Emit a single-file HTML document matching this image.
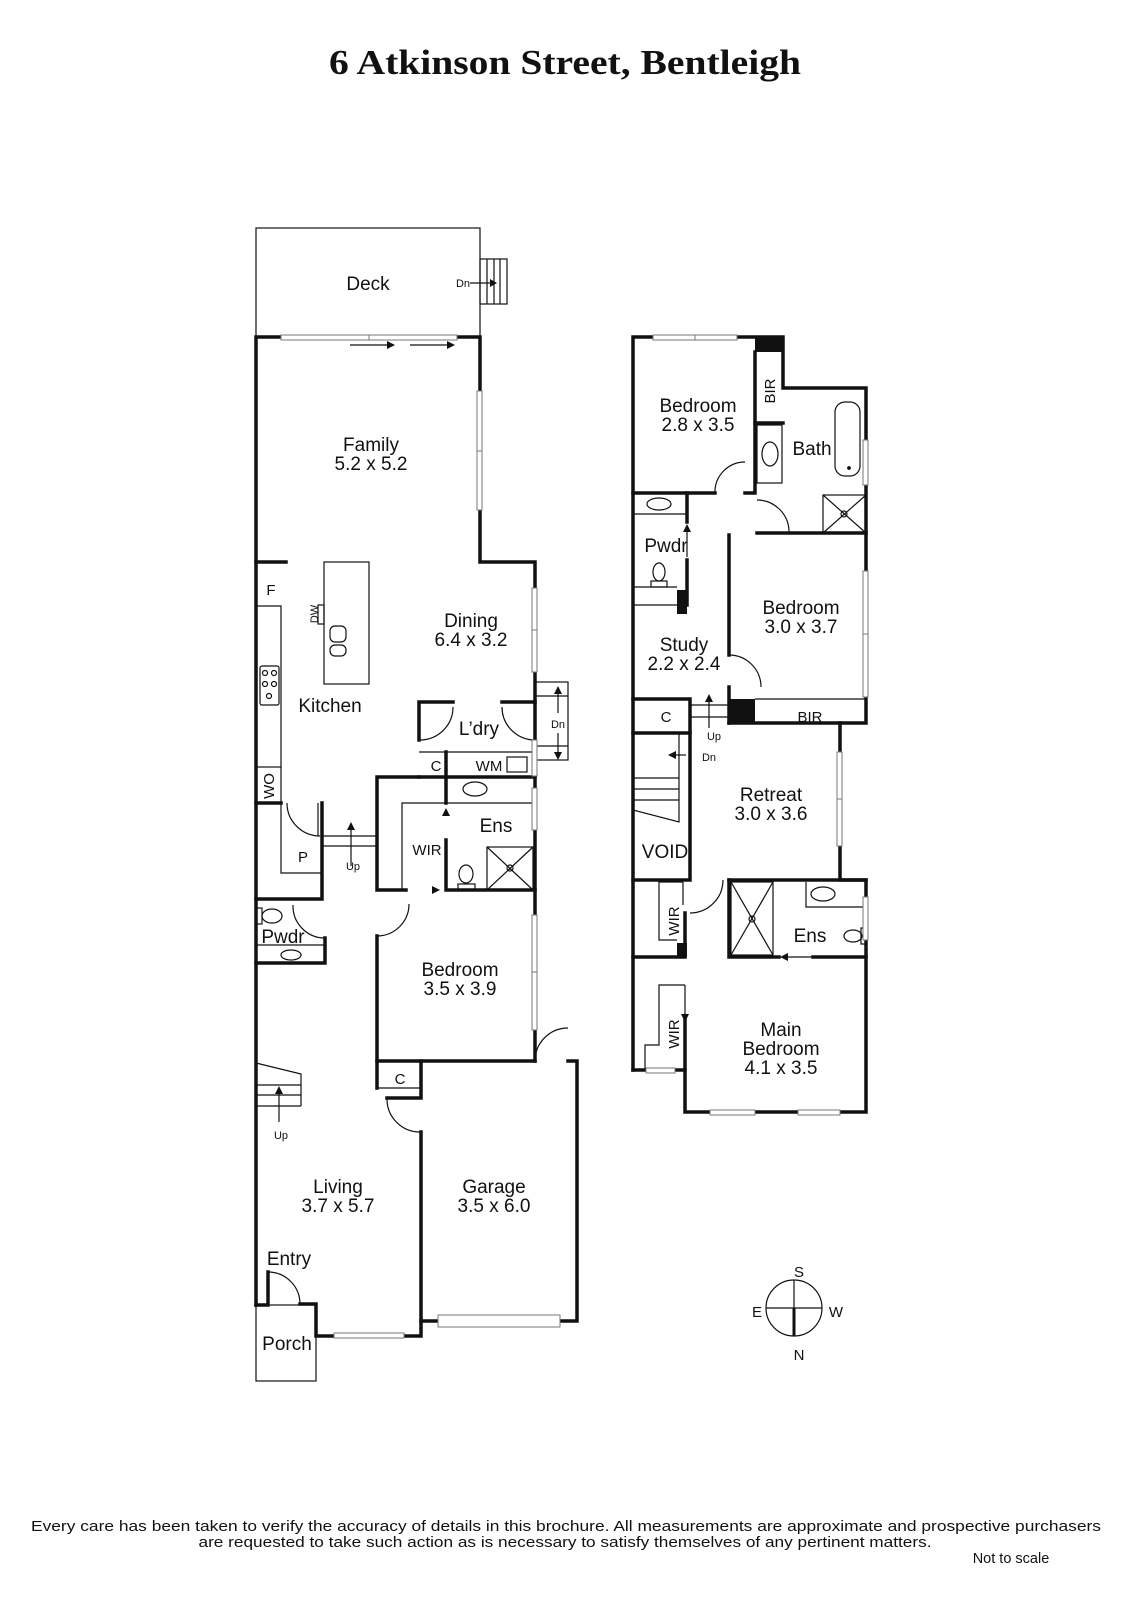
<!DOCTYPE html>
<html><head><meta charset="utf-8"><style>
html,body{margin:0;padding:0;background:#fff}
svg{display:block}
text{font-family:"Liberation Sans",sans-serif;fill:#111}
</style></head><body>
<svg width="1131" height="1600" viewBox="0 0 1131 1600" xmlns="http://www.w3.org/2000/svg">
<text x="565" y="74" text-anchor="middle" style="font-family:'Liberation Serif',serif;font-weight:bold;font-size:35px" textLength="472" lengthAdjust="spacingAndGlyphs">6 Atkinson Street, Bentleigh</text>

<g fill="none" stroke="#111" stroke-width="1.2">
<rect x="256" y="228" width="224" height="109"/>
<rect x="480" y="259" width="27" height="45"/>
<line x1="487" y1="259" x2="487" y2="304"/><line x1="494" y1="259" x2="494" y2="304"/><line x1="500" y1="259" x2="500" y2="304"/>
<line x1="470" y1="283" x2="492" y2="283"/>
<polyline points="256,606 281,606 281,767"/>
<rect x="260" y="666" width="19" height="39" rx="2"/>
<circle cx="265" cy="673" r="2.5"/><circle cx="274" cy="673" r="2.5"/><circle cx="265" cy="684" r="2.5"/><circle cx="274" cy="684" r="2.5"/><circle cx="269" cy="696" r="2.5"/>
<rect x="256" y="767" width="25" height="36"/>
<rect x="324" y="562" width="45" height="122"/>
<rect x="318" y="605" width="6" height="19"/>
<rect x="330" y="626" width="16" height="16" rx="5"/><rect x="330" y="645" width="16" height="11" rx="5"/>
<polyline points="281,803 281,873 322,873"/>
<path d="M287,803 A33,33 0 0 0 320,836"/>
<line x1="318" y1="803" x2="318" y2="836"/>
<line x1="322" y1="836" x2="377" y2="836"/><line x1="322" y1="846" x2="377" y2="846"/>
<line x1="351" y1="866" x2="351" y2="826"/>
<path d="M293,905 A32,32 0 0 0 325,938"/>
<line x1="256" y1="945" x2="325" y2="945"/>
<ellipse cx="291" cy="955" rx="10" ry="5"/>
<ellipse cx="272" cy="916" rx="10" ry="7"/><rect x="256" y="908" width="6" height="16"/>
<path d="M453,707 A33,33 0 0 1 420,740"/>
<path d="M502,707 A33,33 0 0 0 535,740"/>
<line x1="419" y1="752" x2="535" y2="752"/>
<rect x="507" y="757" width="20" height="15"/>
<rect x="535" y="682" width="33" height="78"/>
<line x1="535" y1="696" x2="568" y2="696"/><line x1="535" y1="746" x2="568" y2="746"/>
<line x1="558" y1="690" x2="558" y2="713"/><line x1="558" y1="733" x2="558" y2="756"/>
<polyline points="402,890 402,803 446,803"/>
<line x1="446" y1="803" x2="535" y2="803"/>
<ellipse cx="475" cy="789" rx="12" ry="7"/>
<rect x="487" y="847" width="46" height="43"/>
<line x1="487" y1="847" x2="533" y2="890"/><line x1="533" y1="847" x2="487" y2="890"/>
<circle cx="510" cy="868" r="3"/>
<ellipse cx="466" cy="874" rx="7" ry="9"/><rect x="458" y="884" width="17" height="6"/>
<path d="M377,936 A32,32 0 0 0 409,904"/>
<path d="M535,1061 A33,33 0 0 1 568,1028"/>
<line x1="377" y1="1088" x2="421" y2="1088"/>
<path d="M387,1099 A33,33 0 0 0 421,1132"/>
<polyline points="256,1063 301,1074 301,1106"/>
<line x1="256" y1="1085" x2="301" y2="1085"/><line x1="256" y1="1095" x2="301" y2="1095"/><line x1="256" y1="1106" x2="301" y2="1106"/>
<line x1="279" y1="1122" x2="279" y2="1090"/>
<path d="M268,1272 A32,32 0 0 1 300,1304"/>
<rect x="256" y="1305" width="60" height="76"/>

<path d="M745,462 A30,30 0 0 0 715,493"/>
<path d="M757,500 A32,32 0 0 1 789,532"/>
<rect x="757" y="425" width="25" height="58"/>
<ellipse cx="770" cy="454" rx="8" ry="12"/>
<rect x="835" y="402" width="25" height="74" rx="10"/>
<circle cx="849" cy="468" r="1.3" fill="#111"/>
<rect x="823" y="495" width="43" height="38"/>
<line x1="823" y1="495" x2="866" y2="533"/><line x1="866" y1="495" x2="823" y2="533"/>
<circle cx="844" cy="514" r="3"/>
<line x1="633" y1="514" x2="687" y2="514"/>
<ellipse cx="659" cy="504" rx="12" ry="6"/>
<ellipse cx="659" cy="572" rx="6" ry="9"/><rect x="651" y="581" width="16" height="6"/>
<line x1="633" y1="587" x2="677" y2="587"/><line x1="633" y1="605" x2="677" y2="605"/>
<line x1="687" y1="557" x2="687" y2="528"/>
<path d="M729,655 A32,32 0 0 1 761,687"/>
<line x1="690" y1="705" x2="729" y2="705"/><line x1="690" y1="717" x2="729" y2="717"/>
<line x1="709" y1="728" x2="709" y2="698"/>
<line x1="755" y1="699" x2="866" y2="699"/>
<line x1="679" y1="733" x2="679" y2="778"/>
<line x1="633" y1="778" x2="679" y2="778"/><line x1="633" y1="789" x2="679" y2="789"/><line x1="633" y1="800" x2="679" y2="800"/>
<polyline points="633,810 679,822 679,778"/>
<line x1="686" y1="755" x2="673" y2="755"/>
<polyline points="683,882 659,882 659,940 677,940"/>
<line x1="683" y1="882" x2="683" y2="905"/>
<path d="M690,913 A33,33 0 0 0 723,880"/>
<polyline points="685,985 659,985 659,1045 645,1045 645,1070"/>
<line x1="685" y1="985" x2="685" y2="1015"/>
<rect x="731" y="882" width="42" height="73"/>
<line x1="731" y1="882" x2="773" y2="955"/><line x1="773" y1="882" x2="731" y2="955"/>
<circle cx="752" cy="919" r="3"/>
<polyline points="806,882 806,907 866,907"/>
<ellipse cx="823" cy="894" rx="12" ry="7"/>
<ellipse cx="853" cy="936" rx="9" ry="6"/><rect x="861" y="928" width="5" height="16"/>
<line x1="812" y1="957" x2="784" y2="957"/>
<circle cx="794" cy="1308" r="28"/>
<line x1="766" y1="1308" x2="822" y2="1308"/>
<line x1="794" y1="1280" x2="794" y2="1308"/>
</g>
<line x1="794" y1="1308" x2="794" y2="1336" stroke="#111" stroke-width="3"/>

<g fill="#111">
<polygon points="497,283 490,279 490,287"/>
<polygon points="351,822 347,830 355,830"/>
<polygon points="279,1086 275,1094 283,1094"/>
<polygon points="558,686 554,694 562,694"/><polygon points="558,760 554,752 562,752"/>
<polygon points="446,808 442,816 450,816"/>
<polygon points="440,890 432,886 432,894"/>
<polygon points="687,524 683,532 691,532"/>
<polygon points="709,694 705,702 713,702"/>
<polygon points="668,755 676,751 676,759"/>
<polygon points="685,1022 681,1014 689,1014"/>
<polygon points="780,957 788,953 788,961"/>
<polygon points="395,345 387,341 387,349"/><polygon points="455,345 447,341 447,349"/>
<rect x="755" y="337" width="28" height="15"/>
<rect x="729" y="699" width="26" height="24"/>
<rect x="677" y="590" width="10" height="24"/>
<rect x="677" y="943" width="10" height="14"/>
</g>
<g stroke="#111" stroke-width="1.2">
<line x1="350" y1="345" x2="392" y2="345"/><line x1="410" y1="345" x2="452" y2="345"/>
</g>

<g fill="none" stroke="#111" stroke-width="3.5" stroke-linejoin="miter" stroke-linecap="square">
<polyline points="256,1305 256,337 480,337 480,562 535,562 535,1061"/>
<polyline points="256,562 286,562"/>
<polyline points="256,803 281,803"/>
<polyline points="322,803 322,899 256,899"/>
<polyline points="325,938 325,963 256,963"/>
<polyline points="419,740 419,702 453,702"/>
<polyline points="502,702 535,702"/>
<polyline points="419,777 535,777"/>
<polyline points="446,752 446,803"/><polyline points="446,840 446,890 535,890"/>
<polyline points="406,890 377,890 377,777 419,777"/>
<polyline points="377,936 377,1088"/>
<polyline points="377,1061 535,1061"/>
<polyline points="421,1061 421,1098 387,1098"/>
<polyline points="568,1061 577,1061 577,1321 421,1321"/>
<polyline points="421,1132 421,1336 316,1336 316,1304 300,1304"/>
<polyline points="256,1305 268,1305 268,1272"/>
<polyline points="633,1070 633,337 783,337 783,388 866,388 866,723 729,723"/>
<polyline points="755,352 755,423 783,423"/>
<polyline points="755,423 755,493 745,493"/>
<polyline points="633,493 715,493"/>
<polyline points="757,533 866,533"/><polyline points="729,535 729,655"/><polyline points="729,687 729,723"/>
<polyline points="687,493 687,522"/><polyline points="687,560 687,605"/>
<polyline points="633,699 690,699 690,733 633,733"/>
<polyline points="690,733 690,880 633,880"/>
<polyline points="840,723 840,880 866,880 866,1112 685,1112 685,1070 633,1070"/>
<polyline points="729,880 866,880"/><polyline points="729,880 729,957 779,957"/><polyline points="813,957 866,957"/>
<polyline points="685,913 685,957 633,957"/>
<polyline points="685,1020 685,1070"/>
</g>

<g fill="#fff" stroke="#777" stroke-width="1">
<rect x="281" y="335" width="88" height="5"/><rect x="369" y="335" width="88" height="5"/>
<rect x="477" y="391" width="5" height="60"/><rect x="477" y="451" width="5" height="59"/>
<rect x="532" y="588" width="5" height="42"/><rect x="532" y="630" width="5" height="42"/>
<rect x="532" y="740" width="5" height="36"/>
<rect x="532" y="788" width="5" height="42"/>
<rect x="532" y="915" width="5" height="57"/><rect x="532" y="972" width="5" height="58"/>
<rect x="334" y="1333" width="70" height="5"/>
<rect x="438" y="1315" width="122" height="12"/>
<rect x="653" y="335" width="42" height="5"/><rect x="695" y="335" width="42" height="5"/>
<rect x="863" y="440" width="5" height="45"/>
<rect x="863" y="571" width="5" height="63"/><rect x="863" y="634" width="5" height="63"/>
<rect x="837" y="752" width="5" height="47"/><rect x="837" y="799" width="5" height="47"/>
<rect x="863" y="897" width="5" height="43"/>
<rect x="710" y="1110" width="45" height="5"/><rect x="798" y="1110" width="42" height="5"/>
<rect x="646" y="1068" width="29" height="5"/>
</g>

<g font-size="19" text-anchor="middle">
<text x="368" y="290">Deck</text>
<text x="371" y="451">Family</text><text x="371" y="470">5.2 x 5.2</text>
<text x="471" y="627">Dining</text><text x="471" y="646">6.4 x 3.2</text>
<text x="330" y="712">Kitchen</text>
<text x="479" y="735">L’dry</text>
<text x="496" y="832">Ens</text>
<text x="460" y="976">Bedroom</text><text x="460" y="995">3.5 x 3.9</text>
<text x="338" y="1193">Living</text><text x="338" y="1212">3.7 x 5.7</text>
<text x="494" y="1193">Garage</text><text x="494" y="1212">3.5 x 6.0</text>
<text x="289" y="1265">Entry</text>
<text x="287" y="1350">Porch</text>
<text x="283" y="943">Pwdr</text>
<text x="698" y="412">Bedroom</text><text x="698" y="431">2.8 x 3.5</text>
<text x="812" y="455">Bath</text>
<text x="666" y="552">Pwdr</text>
<text x="801" y="614">Bedroom</text><text x="801" y="633">3.0 x 3.7</text>
<text x="684" y="651">Study</text><text x="684" y="670">2.2 x 2.4</text>
<text x="771" y="801">Retreat</text><text x="771" y="820">3.0 x 3.6</text>
<text x="665" y="858">VOID</text>
<text x="810" y="942">Ens</text>
<text x="781" y="1036">Main</text><text x="781" y="1055">Bedroom</text><text x="781" y="1074">4.1 x 3.5</text>
</g>
<g font-size="15" text-anchor="middle">
<text x="271" y="595">F</text>
<text x="436" y="771">C</text><text x="489" y="771">WM</text>
<text x="427" y="855">WIR</text>
<text x="303" y="862">P</text>
<text x="400" y="1084">C</text>
<text x="666" y="722">C</text><text x="810" y="722">BIR</text>
<text transform="translate(274,786) rotate(-90)">WO</text>
<text transform="translate(775,391) rotate(-90)">BIR</text>
<text transform="translate(679,921) rotate(-90)">WIR</text>
<text transform="translate(679,1034) rotate(-90)">WIR</text>
<text x="799" y="1277">S</text><text x="799" y="1360">N</text>
<text x="757" y="1317">E</text><text x="836" y="1317">W</text>
</g>
<g font-size="11" text-anchor="middle">
<text transform="translate(318,614) rotate(-90)">DW</text>
<text x="463" y="287">Dn</text>
<text x="558" y="728">Dn</text>
<text x="353" y="870">Up</text>
<text x="281" y="1139">Up</text>
<text x="714" y="740">Up</text>
<text x="709" y="761">Dn</text>
</g>
<g font-size="14.5" text-anchor="middle">
<text x="566" y="1531" textLength="1070" lengthAdjust="spacingAndGlyphs">Every care has been taken to verify the accuracy of details in this brochure.  All measurements are approximate and prospective purchasers</text>
<text x="565" y="1547" textLength="733" lengthAdjust="spacingAndGlyphs">are requested to take such action as is necessary to satisfy themselves of any pertinent matters.</text>
<text x="1011" y="1563">Not to scale</text>
</g>
</svg>
</body></html>
